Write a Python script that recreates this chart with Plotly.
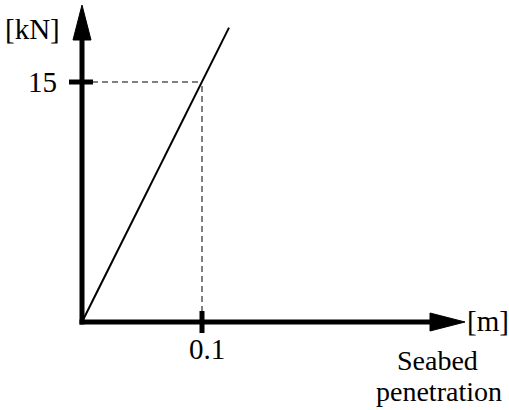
import plotly.graph_objects as go

# Force–penetration relation (linear)
penetration_m = [0.0, 0.1, 0.1225]
force_kN = [0.0, 15.0, 18.4]

# Reference point marked on both axes
ref_x = [0.1]
ref_y = [15.0]
x_tick_labels = ["0.1"]
y_tick_labels = ["15"]

W, H = 509, 410
X0_PX, Y0_PX = 82, 322          # origin position on the canvas
SX, SY = 1200.0, 16.0           # pixels per metre / per kN

x_range = [-X0_PX / SX, (W - X0_PX) / SX]
y_range = [-(H - Y0_PX) / SY, Y0_PX / SY]


def dx(px):
    return px / SX


def dy(px):
    return px / SY


FONT = "Liberation Serif, Times New Roman, serif"
fig = go.Figure()

# main line
fig.add_trace(go.Scatter(x=penetration_m, y=force_kN, mode="lines",
                         line=dict(color="black", width=2), hoverinfo="skip",
                         showlegend=False))

shapes = []
# dashed guides to the reference point
for xv, yv in zip(ref_x, ref_y):
    shapes.append(dict(type="line", x0=0, y0=yv, x1=xv, y1=yv,
                       line=dict(color="black", width=1, dash="6px,4px")))
    shapes.append(dict(type="line", x0=xv, y0=0, x1=xv, y1=yv,
                       line=dict(color="black", width=1, dash="6px,4px")))

# axes with arrow heads
y_tip, y_base = dy(317), dy(282)
x_tip, x_base = dx(383), dx(348)
shapes.append(dict(type="line", x0=0, y0=-dy(2.5), x1=0, y1=y_base + dy(2),
                   line=dict(color="black", width=5)))
shapes.append(dict(type="line", x0=-dx(2.5), y0=0, x1=x_base + dx(2), y1=0,
                   line=dict(color="black", width=5)))
shapes.append(dict(type="path",
                   path=f"M {-dx(9)},{y_base} L 0,{y_tip} L {dx(9)},{y_base} Z",
                   fillcolor="black", line=dict(color="black", width=1)))
shapes.append(dict(type="path",
                   path=f"M {x_base},{dy(9)} L {x_tip},0 L {x_base},{-dy(9)} Z",
                   fillcolor="black", line=dict(color="black", width=1)))

# tick marks crossing the axes
for xv in ref_x:
    shapes.append(dict(type="line", x0=xv, y0=-dy(11), x1=xv, y1=dy(11),
                       line=dict(color="black", width=5)))
for yv in ref_y:
    shapes.append(dict(type="line", x0=-dx(13), y0=yv, x1=dx(11), y1=yv,
                       line=dict(color="black", width=5)))

ann = []
for xv, t in zip(ref_x, x_tick_labels):
    ann.append(dict(x=xv + dx(5), y=-dy(27), text=t, xanchor="center",
                    yanchor="middle", size=29))
for yv, t in zip(ref_y, y_tick_labels):
    ann.append(dict(x=-dx(23), y=yv, text=t, xanchor="right",
                    yanchor="middle", size=29))
ann.append(dict(x=-dx(50), y=dy(293), text="[kN]", xanchor="center",
                yanchor="middle", size=29))
ann.append(dict(x=x_tip, y=dy(1), text="[m]", xanchor="left",
                yanchor="middle", size=29))
ann.append(dict(x=dx(355), y=-dy(38), text="Seabed", xanchor="center",
                yanchor="middle", size=28))
ann.append(dict(x=dx(357), y=-dy(69), text="penetration", xanchor="center",
                yanchor="middle", size=28))
for a in ann:
    size = a.pop("size")
    a.update(xref="x", yref="y", showarrow=False,
             font=dict(family=FONT, size=size, color="black"))

fig.update_layout(
    width=W, height=H,
    margin=dict(l=0, r=0, t=0, b=0),
    paper_bgcolor="white", plot_bgcolor="white",
    xaxis=dict(range=x_range, visible=False, fixedrange=True),
    yaxis=dict(range=y_range, visible=False, fixedrange=True),
    shapes=shapes, annotations=ann,
)

fig.write_html("out.html")
